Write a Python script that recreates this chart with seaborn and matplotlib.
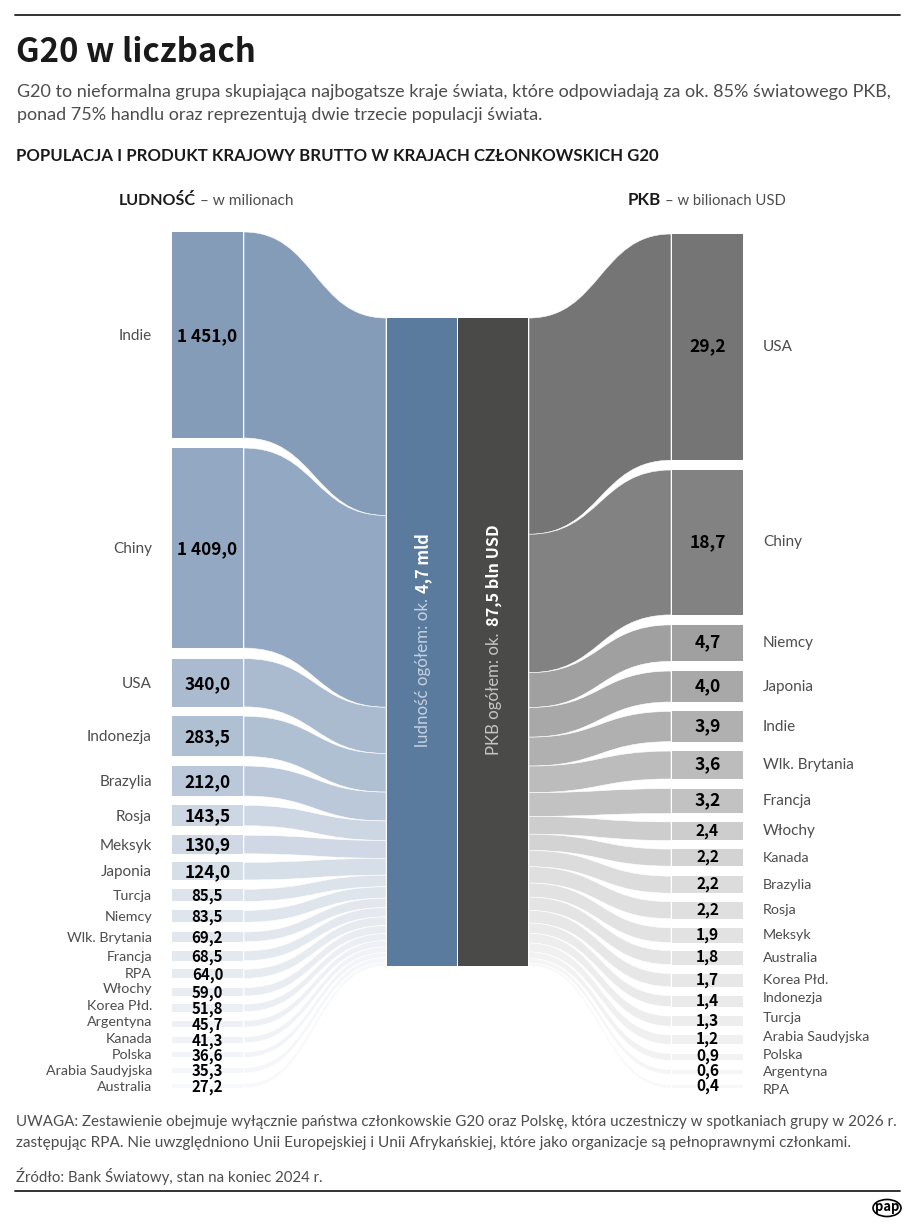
# G20 w liczbach - sankey style chart
import matplotlib
matplotlib.use("Agg")
import matplotlib.pyplot as plt
import seaborn as sns
from matplotlib.patches import Ellipse, PathPatch, Rectangle
from matplotlib.path import Path

# Data
pop_countries = ["Indie", "Chiny", "USA", "Indonezja", "Brazylia", "Rosja", "Meksyk", "Japonia",
                 "Turcja", "Niemcy", "Wlk. Brytania", "Francja", "RPA", "Włochy", "Korea Płd.",
                 "Argentyna", "Kanada", "Polska", "Arabia Saudyjska", "Australia"]
pop_values = [1451.0, 1409.0, 340.0, 283.5, 212.0, 143.5, 130.9, 124.0, 85.5, 83.5, 69.2, 68.5,
              64.0, 59.0, 51.8, 45.7, 41.3, 36.6, 35.3, 27.2]
gdp_countries = ["USA", "Chiny", "Niemcy", "Japonia", "Indie", "Wlk. Brytania", "Francja", "Włochy",
                 "Kanada", "Brazylia", "Rosja", "Meksyk", "Australia", "Korea Płd.", "Indonezja",
                 "Turcja", "Arabia Saudyjska", "Polska", "Argentyna", "RPA"]
gdp_values = [29.2, 18.7, 4.7, 4.0, 3.9, 3.6, 3.2, 2.4, 2.2, 2.2, 2.2, 1.9, 1.8, 1.7, 1.4, 1.3,
              1.2, 0.9, 0.6, 0.4]

# Layout, in pixels of the picture
W, H = 915, 1230
L_BAR = (172, 243)
L_FLOW = (244, 386)
L_MID = (387, 457)
R_MID = (458, 528)
R_FLOW = (529, 671)
R_BAR = (672, 743)
MID_TOP = 318
MID_H = 648
pop_gaps = [10, 10.5, 9.3, 9.5, 9.3, 9.5, 8.5, 9.3, 9, 9.7, 9.2, 8.6, 9.3, 8.1, 9.1, 9.8, 9.5, 10.4, 11]
gdp_gaps = [9.7, 10, 9.7, 9.4, 9.4, 9.7, 8.4, 8.6, 10, 8.5, 9.1, 8.1, 8.9, 9, 9.5, 8.8, 9.3, 9.1, 10.6]
pop_nudge = {"RPA": -1, "Włochy": -4, "Korea Płd.": -3, "Argentyna": -3, "Kanada": -2, "Polska": -1}
gdp_nudge = {"Indonezja": -3, "Turcja": -3.5, "Arabia Saudyjska": -3, "Polska": -1.5, "RPA": 4}

sns.set_theme(style="white")
plt.rcParams["font.family"] = ["Lato", "DejaVu Sans"]
BOLD = ["Noto Sans CJK SC", "Lato", "DejaVu Sans"]

pop_colors = ["#859cb9", "#93a9c3", "#aabbd0", "#b0c0d3", "#bac8da", "#cdd6e3", "#cfd8e4", "#d6dee8"] \
    + sns.blend_palette(["#dde3eb", "#f7f8fa"], 12)
gdp_colors = ["#757575", "#828282", "#a0a0a0", "#a8a8a8", "#b0b0b0", "#bcbcbc", "#c2c2c2", "#cdcdcd",
              "#d3d3d3"] + sns.blend_palette(["#dcdcdc", "#f8f8f8"], 11)

TXT = "#4d4d4d"

fig = plt.figure(figsize=(W / 100, H / 100), dpi=100)
ax = fig.add_axes([0, 0, 1, 1])
ax.set_xlim(0, W)
ax.set_ylim(H, 0)
ax.set_axis_off()


def px(size):
    return size * 72 / 100


def fit(t, length):
    # rescale a text so that it spans the given number of pixels
    box = t.get_window_extent(fig.canvas.get_renderer())
    cur = max(box.width, box.height)
    t.set_fontsize(t.get_fontsize() * length / cur)
    return t


def flow(x0, x1, y0, h0, y1, h1, color):
    xm = (x0 + x1) / 2
    verts = [(x0, y0), (xm, y0), (xm, y1), (x1, y1),
             (x1, y1 + h1),
             (xm, y1 + h1), (xm, y0 + h0), (x0, y0 + h0),
             (x0, y0)]
    codes = [Path.MOVETO, Path.CURVE4, Path.CURVE4, Path.CURVE4,
             Path.LINETO,
             Path.CURVE4, Path.CURVE4, Path.CURVE4,
             Path.CLOSEPOLY]
    ax.add_patch(PathPatch(Path(verts, codes), fc=color, ec="white", lw=0.4))


def fmt(v):
    return f"{v:,.1f}".replace(",", " ").replace(".", ",")


def column(names, values, colors, top, scale, gaps, bar, fl, side, nudge):
    mid_scale = MID_H / sum(values)
    y = top
    y_mid = MID_TOP
    for i, (name, v, c) in enumerate(zip(names, values, colors)):
        h = v * scale
        hm = v * mid_scale
        ax.add_patch(Rectangle((bar[0], y), bar[1] - bar[0], h, fc=c, ec="none"))
        y_lab = y + h / 2 + nudge.get(name, 0)
        size = 15.2 if h > 17.3 else 14.2
        if side == "left":
            flow(fl[0], fl[1], y, h, y_mid, hm, c)
            ax.text(152, y_lab + 1, name, ha="right", va="center", color=TXT, fontsize=px(size))
            vsize = 17.2 if h > 17 else 15
            y_val = y + h / 2 + 1
        else:
            flow(fl[1], fl[0], y, h, y_mid, hm, c)
            ax.text(763, y_lab, name, ha="left", va="center", color=TXT, fontsize=px(size))
            vsize = 17.5 if h > 24 else 15.5
            y_val = y + h / 2 - 0.5
        ax.text((bar[0] + bar[1]) / 2, y_val, fmt(v), ha="center", va="center", color="black",
                fontsize=px(vsize), fontweight="bold", family=BOLD)
        if i < len(gaps):
            y += h + gaps[i]
        y_mid += hm


column(pop_countries, pop_values, pop_colors, 232, 0.142, pop_gaps, L_BAR, L_FLOW, "left", pop_nudge)
column(gdp_countries, gdp_values, gdp_colors, 234, 7.75, gdp_gaps, R_BAR, R_FLOW, "right", gdp_nudge)

# Middle columns
ax.add_patch(Rectangle((L_MID[0], MID_TOP), L_MID[1] - L_MID[0], MID_H, fc="#5a7b9e", ec="none"))
ax.add_patch(Rectangle((R_MID[0], MID_TOP), R_MID[1] - R_MID[0], MID_H, fc="#4a4a49", ec="none"))
fit(ax.text(423, 747, "ludność ogółem: ok.", rotation=90, ha="center", va="bottom", color="#c3d0de",
            fontsize=px(17)), 148)
fit(ax.text(423, 593, "4,7 mld", rotation=90, ha="center", va="bottom", color="white",
            fontsize=px(17), fontweight="bold", family=BOLD), 60)
fit(ax.text(494, 755, "PKB ogółem: ok.", rotation=90, ha="center", va="bottom", color="#c4c4c4",
            fontsize=px(17)), 122)
fit(ax.text(494, 626, "87,5 bln USD", rotation=90, ha="center", va="bottom", color="white",
            fontsize=px(17), fontweight="bold", family=BOLD), 102)

# Headers
ax.plot([15, 900], [15, 15], color="#222222", lw=1.3)
ax.plot([15, 900], [1191, 1191], color="#222222", lw=1.3)
fit(ax.text(16, 53, "G20 w liczbach", ha="left", va="center", color="#1a1a1a", fontsize=px(36),
            fontweight="bold", family=BOLD), 240)
fit(ax.text(17, 92, "G20 to nieformalna grupa skupiająca najbogatsze kraje świata, które odpowiadają za ok. 85% światowego PKB,",
            ha="left", va="center", color=TXT, fontsize=px(18)), 873)
fit(ax.text(17, 115, "ponad 75% handlu oraz reprezentują dwie trzecie populacji świata.",
            ha="left", va="center", color=TXT, fontsize=px(18)), 527)
fit(ax.text(16, 156, "POPULACJA I PRODUKT KRAJOWY BRUTTO W KRAJACH CZŁONKOWSKICH G20", ha="left", va="center",
            color="#1a1a1a", fontsize=px(16), fontweight="bold"), 639)
fit(ax.text(119, 205, "LUDNOŚĆ", ha="left", va="baseline", color="#1a1a1a", fontsize=px(16), fontweight="bold"), 77)
fit(ax.text(200, 205, "– w milionach", ha="left", va="baseline", color=TXT, fontsize=px(15)), 94)
fit(ax.text(628, 205, "PKB", ha="left", va="baseline", color="#1a1a1a", fontsize=px(16), fontweight="bold"), 33)
fit(ax.text(665, 205, "– w bilionach USD", ha="left", va="baseline", color=TXT, fontsize=px(15)), 121)

# Notes
fit(ax.text(16, 1122, "UWAGA: Zestawienie obejmuje wyłącznie państwa członkowskie G20 oraz Polskę, która uczestniczy w spotkaniach grupy w 2026 r.",
            ha="left", va="center", color=TXT, fontsize=px(15)), 881)
fit(ax.text(16, 1143, "zastępując RPA. Nie uwzględniono Unii Europejskiej i Unii Afrykańskiej, które jako organizacje są pełnoprawnymi członkami.",
            ha="left", va="center", color=TXT, fontsize=px(15)), 836)
fit(ax.text(16, 1176.5, "Źródło: Bank Światowy, stan na koniec 2024 r.", ha="left", va="center", color=TXT,
            fontsize=px(15)), 306)

# Logo
ax.add_patch(Ellipse((887, 1208), 28, 17, fc="white", ec="black", lw=1.2))
ax.text(887, 1206.5, "pap", ha="center", va="center", color="black", fontsize=px(13), fontweight="bold", family=BOLD)

fig.savefig("out.png", dpi=100)
